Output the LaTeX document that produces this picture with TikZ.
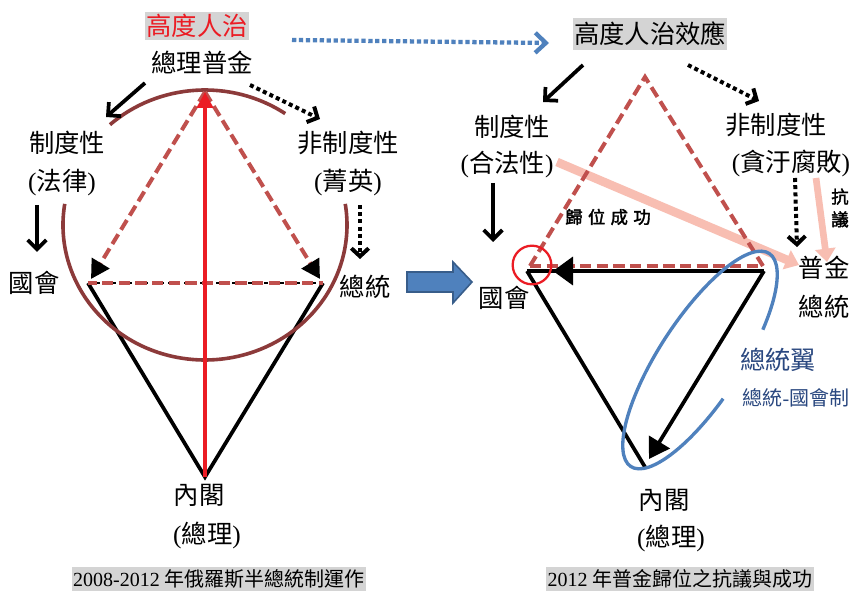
\documentclass[tikz,border=0pt]{standalone}
\usepackage{fontspec}
\setmainfont{Liberation Serif}
\newfontfamily\cjk{Noto Sans CJK TC}
\newfontfamily\cjkb[FakeBold=2.2]{Noto Sans CJK TC}
\usetikzlibrary{arrows.meta,calc}
\definecolor{brownarc}{RGB}{140,58,58}
\definecolor{dashred}{RGB}{192,80,77}
\definecolor{hotred}{RGB}{235,28,36}
\definecolor{pptblue}{RGB}{79,129,189}
\definecolor{pptblueline}{RGB}{56,93,138}
\definecolor{textblue}{RGB}{42,72,128}
\definecolor{pinkarr}{RGB}{248,190,178}
\definecolor{graybg}{RGB}{212,212,212}
\newcommand\lp{{\rmfamily(}}
\newcommand\rp{{\rmfamily)}}
\begin{document}
\begin{tikzpicture}[x=0.75pt,y=-0.75pt,
  zh/.style={font=\cjk\fontsize{19}{22}\selectfont, inner sep=0pt},
  zhs/.style={font=\cjk\fontsize{15}{18}\selectfont, inner sep=0pt},
  captionbox/.style={font=\fontsize{15}{18}\selectfont, fill=graybg, inner xsep=1pt, inner ysep=2pt},
  blkarr/.style={line width=2.8pt, -{Straight Barb[length=7pt,width=14pt]}},
  dotarr/.style={line width=3pt, dash pattern=on 3pt off 2.4pt, -{Straight Barb[length=6pt,width=13pt]}},
  reddash/.style={draw=dashred, line width=3pt, dash pattern=on 8.5pt off 4pt},
  blacktri/.style={line width=2.8pt, line join=miter},
  brownring/.style={draw=brownarc, line width=2.7pt},
  pinkarrow/.style={draw=pinkarr, line width=6.5pt, -{Triangle[length=10pt,width=15pt]}},
]
\useasboundingbox (0,0) rectangle (854,591);
\fill[white] (0,0) rectangle (854,591);

% ================= LEFT PANEL =================
\coordinate (LA) at (205,92);
\coordinate (LL) at (88,283);
\coordinate (LR) at (323,283);
\coordinate (LB) at (205,477);
\coordinate (LLd) at (91,279);
\coordinate (LRd) at (320,279);

% black triangle
\draw[blacktri] (LL) -- (LB) -- (LR);
\draw[line width=1.2pt, dash pattern=on 3pt off 3pt] (LL) -- (LR);
\draw[reddash, dash phase=2pt] (LL) -- (LR);

% brown ring
\begin{scope}[shift={(205,225)}]
  \draw[brownring] (55.6:106.5pt and 101.25pt) arc[start angle=55.6, end angle=132, x radius=106.5pt, y radius=101.25pt];
  \draw[brownring] (171:106.5pt and 101.25pt) arc[start angle=171, end angle=369, x radius=106.5pt, y radius=101.25pt];
\end{scope}

% red dashed triangle with black heads
\draw[reddash, -{Triangle[length=14pt,width=15pt,color=black]}] (LA) -- (LLd);
\draw[reddash, -{Triangle[length=14pt,width=15pt,color=black]}] (LA) -- (LRd);

% red vertical arrow
\draw[hotred, line width=3pt, -{Triangle[length=12pt,width=12pt]}] (LB) -- (LA);

% texts
\node[zh, fill=graybg, text=hotred, inner xsep=1pt, inner ysep=2pt] (hl) at (197,26) {高度人治};
\node[zh] (pm) at (202,63) {總理普金};
\node[zh] (zd) at (67,143) {制度性};
\node[zh] (fl) at (62,183) {\lp 法律\rp};
\node[zh] (gh) at (34,283) {國會};
\node[zh] (fz) at (348,143) {非制度性};
\node[zh] (jy) at (348,183) {\lp 菁英\rp};
\node[zh] (zt) at (365,287) {總統};
\node[zh] (ng) at (199,495) {內閣};
\node[zh] (zl) at (207,535) {\lp 總理\rp};
\node[captionbox] (capL) at (219,579) {2008-2012 {\cjk\fontsize{15}{18}\selectfont 年俄羅斯半總統制運作}};

% arrows
\coordinate (a1s) at (145,83); \coordinate (a1e) at (106,117);
\draw[blkarr] (a1s) -- (a1e);
\coordinate (a2s) at (250,85); \coordinate (a2e) at (320,119);
\draw[dotarr] (a2s) -- (a2e);
\coordinate (a3s) at (37,205); \coordinate (a3e) at (37,252);
\draw[blkarr] (a3s) -- (a3e);
\coordinate (a4s) at (360,205); \coordinate (a4e) at (360,259);
\draw[dotarr] (a4s) -- (a4e);

% blue dotted arrow between panels
\coordinate (b1s) at (292,40); \coordinate (b1e) at (549,43);
\draw[pptblue, line width=3.2pt, dash pattern=on 3.2pt off 2pt, -{Straight Barb[length=8pt,width=15pt]}] (b1s) -- (b1e);

% block arrow
\draw[fill=pptblue, draw=pptblueline, line width=1.2pt, line join=miter]
  (407,272) -- (453,272) -- (453,262) -- (472,282) -- (453,303) -- (453,292) -- (407,292) -- cycle;

% ================= RIGHT PANEL =================
\coordinate (RA) at (645,77);
\coordinate (RLd) at (530,266);
\coordinate (RRd) at (763,266);
\coordinate (RL) at (527,271);
\coordinate (RR) at (764,271);
\coordinate (RB) at (645,467);
\coordinate (RBtip) at (649,459);
\coordinate (RTtip) at (553,271);

% pink arrows
\coordinate (p1s) at (557,162); \coordinate (p1e) at (799,265);
\draw[pinkarrow] (p1s) -- (p1e);
\coordinate (p2s) at (816,178); \coordinate (p2e) at (827,262);
\draw[pinkarrow, line width=5pt] (p2s) -- (p2e);

% red dashed triangle
\draw[reddash] (RLd) -- (RA) -- (RRd);
\draw[reddash] (RLd) -- (RRd);

% black triangle
\draw[blacktri] (RL) -- (RR);
\draw[blacktri] (RL) -- (RB);
\draw[blacktri, -{Triangle[length=15pt,width=21pt]}] (RR) -- (RTtip);
\draw[blacktri, -{Triangle[length=15pt,width=18pt]}] (RR) -- (RBtip);

% red circle
\draw[hotred, line width=1.7pt] (532,265) circle[radius=14.5pt];

% blue ellipse
\begin{scope}[shift={(700,360)}, rotate=57]
  \draw[pptblue, line width=2.5pt] (-62:95.25pt and 30.75pt) arc[start angle=-62, end angle=261, x radius=95.25pt, y radius=30.75pt];
\end{scope}

% texts
\node[zh, fill=graybg, inner xsep=1pt, inner ysep=3pt] (hle) at (650,34) {高度人治效應};
\node[zh] (rzd) at (512,127) {制度性};
\node[zh] (rhf) at (507,165) {\lp 合法性\rp};
\node[zh] (rgh) at (504,298) {國會};
\node[zh] (rfz) at (776,125) {非制度性};
\node[zh] (rtw) at (791,163) {\lp 貪汙腐敗\rp};
\node[zh] (rpj) at (824,268) {普金};
\node[zh] (rzt) at (824,307) {總統};
\node[zh, text=textblue] (zty) at (778,360) {總統翼};
\node[zhs, text=textblue] (ztg) at (796,398) {總統{\rmfamily -}國會制};
\node[font=\cjkb\fontsize{13}{15}\selectfont, inner sep=0pt] (gw) at (608,217) {歸\hspace{4pt}位\hspace{4pt}成\hspace{4pt}功};
\node[font=\cjkb\fontsize{13}{17}\selectfont, inner sep=0pt, align=center] (ky) at (840,208) {抗\\議};
\node[zh] (rng) at (664,500) {內閣};
\node[zh] (rzl) at (671,538) {\lp 總理\rp};
\node[captionbox] (capR) at (680,579) {2012 {\cjk\fontsize{15}{18}\selectfont 年普金歸位之抗議與成功}};

% arrows
\coordinate (c1s) at (583,65); \coordinate (c1e) at (543,102);
\draw[blkarr] (c1s) -- (c1e);
\coordinate (c2s) at (688,65); \coordinate (c2e) at (759,101);
\draw[dotarr] (c2s) -- (c2e);
\coordinate (c3s) at (493,183); \coordinate (c3e) at (493,242);
\draw[blkarr] (c3s) -- (c3e);
\coordinate (c4s) at (795,178); \coordinate (c4e) at (797,247);
\draw[dotarr] (c4s) -- (c4e);
\end{tikzpicture}
\end{document}
